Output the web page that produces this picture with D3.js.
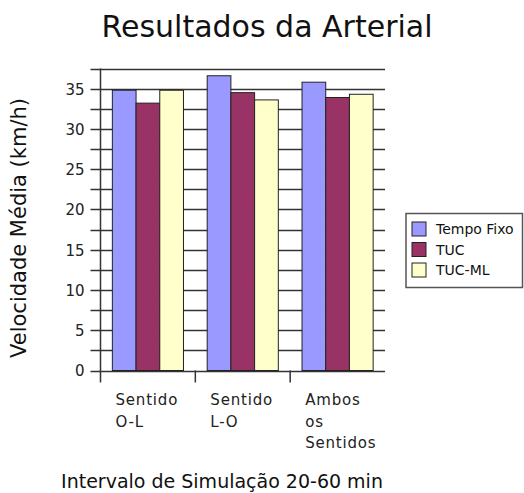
<!DOCTYPE html>
<html>
<head>
<meta charset="utf-8">
<script src="https://cdn.jsdelivr.net/npm/d3@7"></script>
<style>
  body { margin: 0; background: #fff; }
  svg { font-family: 'DejaVu Sans', sans-serif; }
</style>
</head>
<body>
<svg id="chart" width="524" height="493"></svg>
<script>
// Chart data
const categories = [['Sentido', 'O-L'], ['Sentido', 'L-O'], ['Ambos', 'os', 'Sentidos']]
const series = ['Tempo Fixo', 'TUC', 'TUC-ML']
const colors = ['#9999ff', '#993366', '#ffffcc']
const tempoFixo = [34.8, 36.6, 35.8]
const tuc = [33.2, 34.5, 33.9]
const tucMl = [34.8, 33.6, 34.3]
const values = [tempoFixo, tuc, tucMl]
const yTicks = [0, 5, 10, 15, 20, 25, 30, 35]

const svg = d3.select('#chart')
const plotLeft = 100.5, plotRight = 385, plotBottom = 370.5, plotTop = 68.5

const x = d3.scaleBand().domain(d3.range(categories.length)).range([plotLeft, plotRight])
const bw = x.bandwidth()
const xs = d3.scaleBand().domain(d3.range(series.length)).range([bw * 0.125, bw * 0.875])
const y = d3.scaleLinear().domain([0, 37.5]).range([plotBottom, plotTop])

// Gridlines, every 2.5
const grid = d3.range(0, 37.6, 2.5)
svg.append('g')
  .selectAll('line')
  .data(grid)
  .enter()
  .append('line')
  .attr('x1', plotLeft - 10)
  .attr('x2', plotRight)
  .attr('y1', (d) => Math.round(y(d)) + 0.5)
  .attr('y2', (d) => Math.round(y(d)) + 0.5)
  .attr('stroke', '#333')
  .attr('stroke-width', 1.3)

// Bars
categories.forEach((c, ci) => {
  svg.append('g')
    .selectAll('rect')
    .data(series)
    .enter()
    .append('rect')
    .attr('x', (s, si) => x(ci) + xs(si))
    .attr('y', (s, si) => y(values[si][ci]))
    .attr('width', xs.bandwidth())
    .attr('height', (s, si) => plotBottom - y(values[si][ci]))
    .attr('fill', (s, si) => colors[si])
    .attr('stroke', '#222')
    .attr('stroke-width', 1)
})

// Y axis
const yAxis = svg.append('g')
  .attr('transform', `translate(${plotLeft},0)`)
  .call(d3.axisLeft(y).tickValues(yTicks).tickSize(0).tickPadding(16))
yAxis.select('.domain').remove()
yAxis.selectAll('text')
  .attr('font-family', 'DejaVu Sans')
  .attr('font-size', 15)
  .attr('fill', '#222')
  .attr('dy', '0.36em')
svg.append('line')
  .attr('x1', plotLeft).attr('x2', plotLeft)
  .attr('y1', plotTop).attr('y2', plotBottom + 12)
  .attr('stroke', '#333').attr('stroke-width', 1.5)

// Category ticks
svg.append('g')
  .selectAll('line')
  .data(d3.range(1, categories.length))
  .enter()
  .append('line')
  .attr('x1', (d) => x(d))
  .attr('x2', (d) => x(d))
  .attr('y1', plotBottom)
  .attr('y2', plotBottom + 12)
  .attr('stroke', '#333')
  .attr('stroke-width', 1.5)

// Category labels
categories.forEach((lines, ci) => {
  const t = svg.append('text')
    .attr('y', 405)
    .attr('font-size', 15)
    .attr('letter-spacing', 0.8)
    .attr('fill', '#222')
  lines.forEach((l, li) => {
    t.append('tspan').attr('x', x(ci) + 15).attr('dy', li === 0 ? 0 : 21.5).text(l)
  })
})

// Title and axis titles
svg.append('text')
  .attr('x', 267).attr('y', 37)
  .attr('text-anchor', 'middle')
  .attr('font-size', 30)
  .attr('fill', '#111')
  .text('Resultados da Arterial')

svg.append('text')
  .attr('x', 222).attr('y', 488)
  .attr('text-anchor', 'middle')
  .attr('font-size', 19)
  .attr('fill', '#111')
  .text('Intervalo de Simulação 20-60 min')

svg.append('text')
  .attr('transform', 'translate(26,228) rotate(-90)')
  .attr('text-anchor', 'middle')
  .attr('font-size', 21)
  .attr('fill', '#111')
  .text('Velocidade Média (km/h)')

// Legend
const legend = svg.append('g')
legend.append('rect')
  .attr('x', 406).attr('y', 213.5)
  .attr('width', 116.5).attr('height', 74)
  .attr('fill', '#fff')
  .attr('stroke', '#555')
  .attr('stroke-width', 1.5)
series.forEach((s, i) => {
  legend.append('rect')
    .attr('x', 412).attr('y', 222 + i * 20.5)
    .attr('width', 14).attr('height', 14)
    .attr('fill', colors[i])
    .attr('stroke', '#222')
  legend.append('text')
    .attr('x', 436).attr('y', 234 + i * 20.5)
    .attr('font-size', 14)
    .attr('fill', '#111')
    .text(s)
})
</script>
</body>
</html>
